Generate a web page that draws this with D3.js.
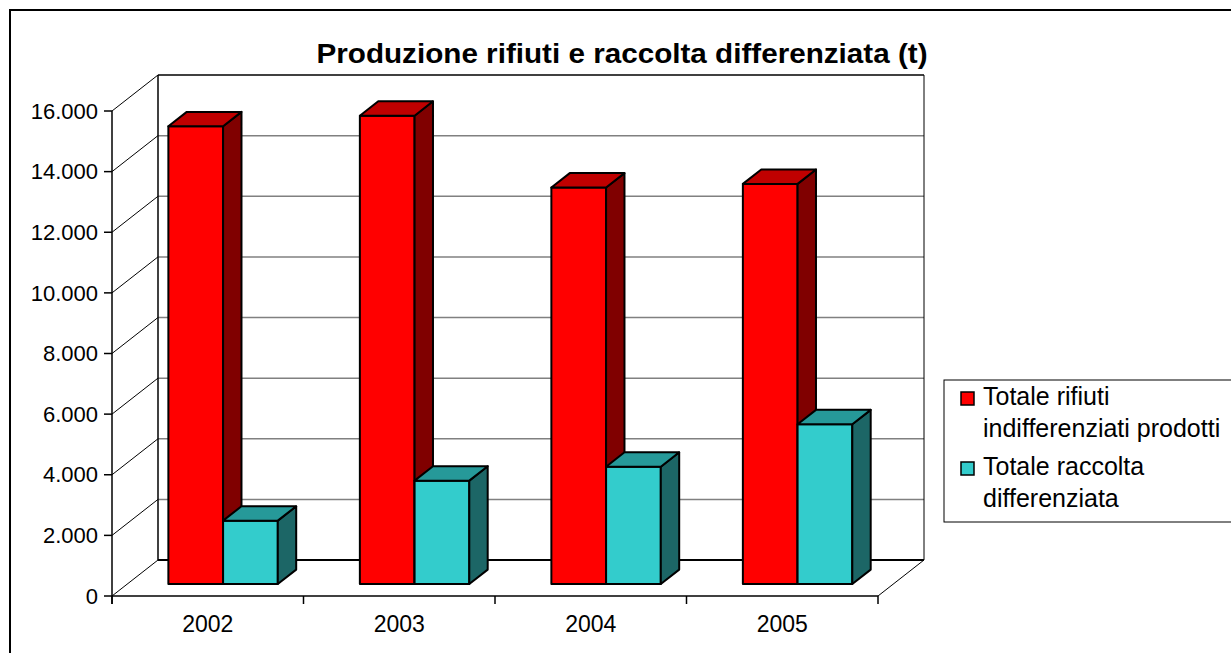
<!DOCTYPE html>
<html>
<head>
<meta charset="utf-8">
<script src="https://cdn.jsdelivr.net/npm/d3@7"></script>
<style>
  body { margin: 0; background: #fff; }
  text { font-family: "Liberation Sans", Arial, sans-serif; fill: #000; }
</style>
</head>
<body>
<div class="chart"></div>
<script>
// data
var years = ["2002", "2003", "2004", "2005"];
var rifiuti = [15100, 15450, 13080, 13200];
var differenziata = [2090, 3410, 3870, 5270];
var yTicks = [0, 2000, 4000, 6000, 8000, 10000, 12000, 14000, 16000];
var seriesNames = [["Totale rifiuti", "indifferenziati prodotti"], ["Totale raccolta", "differenziata"]];

var svgWidth = 1231;
var svgHeight = 653;

var svg = d3.select(".chart")
  .append("svg")
  .attr("width", svgWidth)
  .attr("height", svgHeight);

// outer frame
svg.append("rect")
  .attr("x", 10).attr("y", 10)
  .attr("width", 1240).attr("height", 660)
  .attr("fill", "none").attr("stroke", "#000").attr("stroke-width", 2);

svg.append("text")
  .attr("x", 622).attr("y", 63)
  .attr("text-anchor", "middle")
  .attr("textLength", 611)
  .attr("lengthAdjust", "spacingAndGlyphs")
  .style("font-size", "28px")
  .style("font-weight", "bold")
  .text("Produzione rifiuti e raccolta differenziata (t)");

// 3d geometry: front plane + depth offset
var DX = 46, DY = -36;
var xScale = d3.scaleBand().domain(years).range([112, 878]);
var yScale = d3.scaleLinear().domain([0, 16000]).range([596, 111]);
var left = 112, right = 878;

var it = d3.formatLocale({ decimal: ",", thousands: ".", grouping: [3], currency: ["€", ""] });
var fmt = it.format(",");

var g = svg.append("g");

// back wall gridlines
yTicks.forEach(function(t) {
  var yy = yScale(t) + DY;
  g.append("line")
    .attr("x1", left + DX).attr("x2", right + DX)
    .attr("y1", yy).attr("y2", yy)
    .attr("stroke", (t === 0 || t === 16000) ? "#000" : "#808080")
    .attr("stroke-width", t === 0 ? 2 : 1.5);
  // side wall diagonals
  g.append("line")
    .attr("x1", left).attr("y1", yScale(t))
    .attr("x2", left + DX).attr("y2", yScale(t) + DY)
    .attr("stroke", "#000").attr("stroke-width", 1);
});

// back wall verticals
g.append("line")
  .attr("x1", left + DX).attr("x2", left + DX)
  .attr("y1", yScale(16000) + DY).attr("y2", yScale(0) + DY)
  .attr("stroke", "#000").attr("stroke-width", 1.5);
g.append("line")
  .attr("x1", right + DX).attr("x2", right + DX)
  .attr("y1", yScale(16000) + DY).attr("y2", yScale(0) + DY)
  .attr("stroke", "#000").attr("stroke-width", 1);

// floor right diagonal
g.append("line")
  .attr("x1", right).attr("y1", yScale(0))
  .attr("x2", right + DX).attr("y2", yScale(0) + DY)
  .attr("stroke", "#000").attr("stroke-width", 1);

// front axes
g.append("line")
  .attr("x1", left).attr("x2", left)
  .attr("y1", yScale(16000)).attr("y2", yScale(0) + 8)
  .attr("stroke", "#000").attr("stroke-width", 1.5);
g.append("line")
  .attr("x1", left).attr("x2", right)
  .attr("y1", yScale(0)).attr("y2", yScale(0))
  .attr("stroke", "#000").attr("stroke-width", 1.5);

yTicks.forEach(function(t) {
  g.append("line")
    .attr("x1", left - 8).attr("x2", left)
    .attr("y1", yScale(t)).attr("y2", yScale(t))
    .attr("stroke", "#000").attr("stroke-width", 1.5);
  g.append("text")
    .attr("x", 98).attr("y", yScale(t))
    .attr("dy", "0.35em")
    .attr("text-anchor", "end")
    .style("font-size", "22px")
    .text(fmt(t));
});

years.concat(["end"]).forEach(function(yr, i) {
  var xx = i < years.length ? xScale(yr) : right;
  g.append("line")
    .attr("x1", xx).attr("x2", xx)
    .attr("y1", yScale(0)).attr("y2", yScale(0) + 8)
    .attr("stroke", "#000").attr("stroke-width", 1.5);
});

g.selectAll(".xlabel")
  .data(years)
  .enter()
  .append("text")
  .attr("x", d => xScale(d) + xScale.bandwidth() / 2)
  .attr("y", 632)
  .attr("text-anchor", "middle")
  .style("font-size", "23px")
  .text(d => d);

// bars
var f0 = 1 / 3, f1 = 0.4;
var bw = xScale.bandwidth() / 3.5;
var ddx = DX * f1, ddy = DY * f1;
var series = [
  { values: rifiuti, front: "#FF0000", top: "#C00000", side: "#800000" },
  { values: differenziata, front: "#33CCCC", top: "#269999", side: "#1C6666" }
];

years.forEach(function(yr, j) {
  series.forEach(function(s, i) {
    var x0 = xScale(yr) + (xScale.bandwidth() - 2 * bw) / 2 + i * bw + DX * f0;
    var yb = yScale(0) + DY * f0;
    var yt = yScale(s.values[j]) + DY * f0;
    var bar = g.append("g")
      .attr("stroke", "#000").attr("stroke-width", 2).attr("stroke-linejoin", "round");
    bar.append("rect")
      .attr("x", x0).attr("y", yt)
      .attr("width", bw).attr("height", yb - yt)
      .attr("fill", s.front);
    bar.append("polygon")
      .attr("points", [[x0 + bw, yt], [x0 + bw + ddx, yt + ddy], [x0 + bw + ddx, yb + ddy], [x0 + bw, yb]].join(" "))
      .attr("fill", s.side);
    bar.append("polygon")
      .attr("points", [[x0, yt], [x0 + bw, yt], [x0 + bw + ddx, yt + ddy], [x0 + ddx, yt + ddy]].join(" "))
      .attr("fill", s.top);
  });
});

// legend
var legend = svg.append("g");
legend.append("rect")
  .attr("x", 944).attr("y", 380)
  .attr("width", 320).attr("height", 142)
  .attr("fill", "#fff").attr("stroke", "#000").attr("stroke-width", 1);

var legendY = [[405, 437], [475, 507]];
seriesNames.forEach(function(lines, i) {
  legend.append("rect")
    .attr("x", 961).attr("y", legendY[i][0] - 13)
    .attr("width", 13).attr("height", 13)
    .attr("fill", series[i].front)
    .attr("stroke", "#000").attr("stroke-width", 1.5);
  lines.forEach(function(line, k) {
    legend.append("text")
      .attr("x", 983).attr("y", legendY[i][k])
      .style("font-size", "25px")
      .text(line);
  });
});
</script>
</body>
</html>
